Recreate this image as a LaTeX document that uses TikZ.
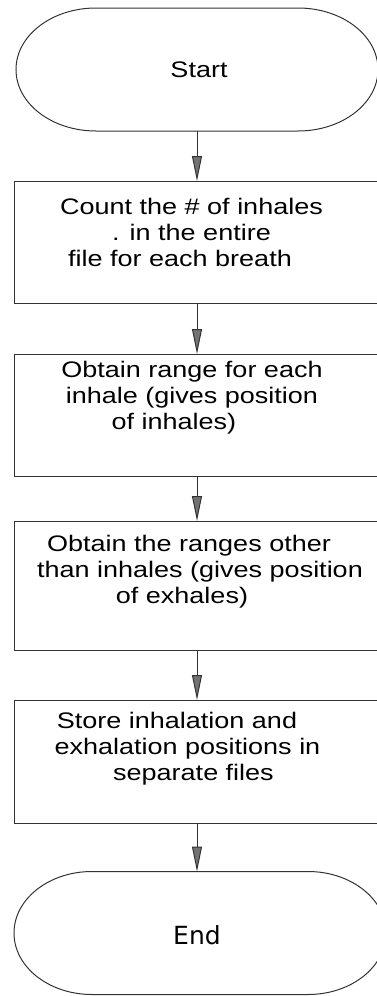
\documentclass[tikz,border=0pt]{standalone}
\usepackage{fontspec}
\usetikzlibrary{arrows.meta}
\newfontfamily\flowfont[FakeStretch=1.2]{Liberation Sans}
\newfontfamily\endfont{DejaVu Sans}

% first/last line struts keep the text block height fixed
\newcommand\topstrut{\rule{0pt}{17pt}}
\newcommand\botstrut{\rule[-5pt]{0pt}{5pt}}

\tikzset{
  edge/.style={draw=black!80, line width=1pt},
  flowbox/.style={edge, rectangle, inner sep=0pt, outer sep=0pt},
  terminal/.style={rectangle, inner sep=0pt, outer sep=0pt},
  flowtext/.style={align=center, inner sep=0pt,
    font=\flowfont\fontsize{22.5pt}{26pt}\selectfont},
  flowarrow/.style={edge, -{Triangle[length=25pt, width=10pt, fill=black!55]}},
}

% rounded terminal outline drawn around a named node
\newcommand\termoutline[2]{%
  \draw[edge] ([xshift=#2]#1.north west) -- ([xshift=-#2]#1.north east)
    arc[start angle=90, end angle=-90, x radius=#2, y radius=61.5pt]
    -- ([xshift=#2]#1.south west)
    arc[start angle=270, end angle=90, x radius=#2, y radius=61.5pt]
    -- cycle;}

\begin{document}
\begin{tikzpicture}[x=1pt, y=-1pt]
  \useasboundingbox (0,0) rectangle (377,996);
  \clip (0,0) rectangle (377,996);

  % terminals
  \node[terminal, minimum width=362pt, minimum height=123pt] (start) at (197,69.5) {};
  \termoutline{start}{80pt}
  \node[flowtext] (starttext) at (199,70) {Start};

  \node[terminal, minimum width=372pt, minimum height=123pt] (end) at (200,933) {};
  \termoutline{end}{78pt}
  \node[font=\endfont\fontsize{25pt}{30pt}\selectfont, inner sep=0pt] (endtext) at (197,935) {End};

  % process boxes (right edges run past the frame)
  \node[flowbox, minimum width=372pt, minimum height=122pt] (b1) at (200,242) {};
  \node[flowbox, minimum width=372pt, minimum height=122pt] (b2) at (200,415) {};
  \node[flowbox, minimum width=372pt, minimum height=129pt] (b3) at (200,585.5) {};
  \node[flowbox, minimum width=372pt, minimum height=123pt] (b4) at (200,761.5) {};

  \node[flowtext] (t1) at (191.5,234) {\topstrut Count the \# of inhales\\
    . in the entire\\
    file for each breath\hspace*{23pt}\botstrut};
  \node[flowtext] (t2) at (192,397) {\topstrut Obtain range for each\\
    inhale (gives position\\
    of inhales)\hspace*{36pt}\botstrut};
  \node[flowtext] (t3) at (200,571) {\topstrut Obtain the ranges other\hspace*{22pt}\\
    than inhales (gives position\\
    of exhales)\hspace*{36pt}\botstrut};
  \node[flowtext] (t4) at (187.5,748) {\topstrut Store inhalation and\hspace*{21pt}\\
    exhalation positions in\\
    \hspace*{12pt}separate files\botstrut};

  % connectors, all on the axis of the start terminal
  \draw[flowarrow] (start.south) -- (b1.north -| start.south);
  \draw[flowarrow] (b1.south -| start.south) -- (b2.north -| start.south);
  \draw[flowarrow] (b2.south -| start.south) -- (b3.north -| start.south);
  \draw[flowarrow] (b3.south -| start.south) -- (b4.north -| start.south);
  \draw[flowarrow] (b4.south -| start.south) -- (end.north -| start.south);
\end{tikzpicture}
\end{document}
